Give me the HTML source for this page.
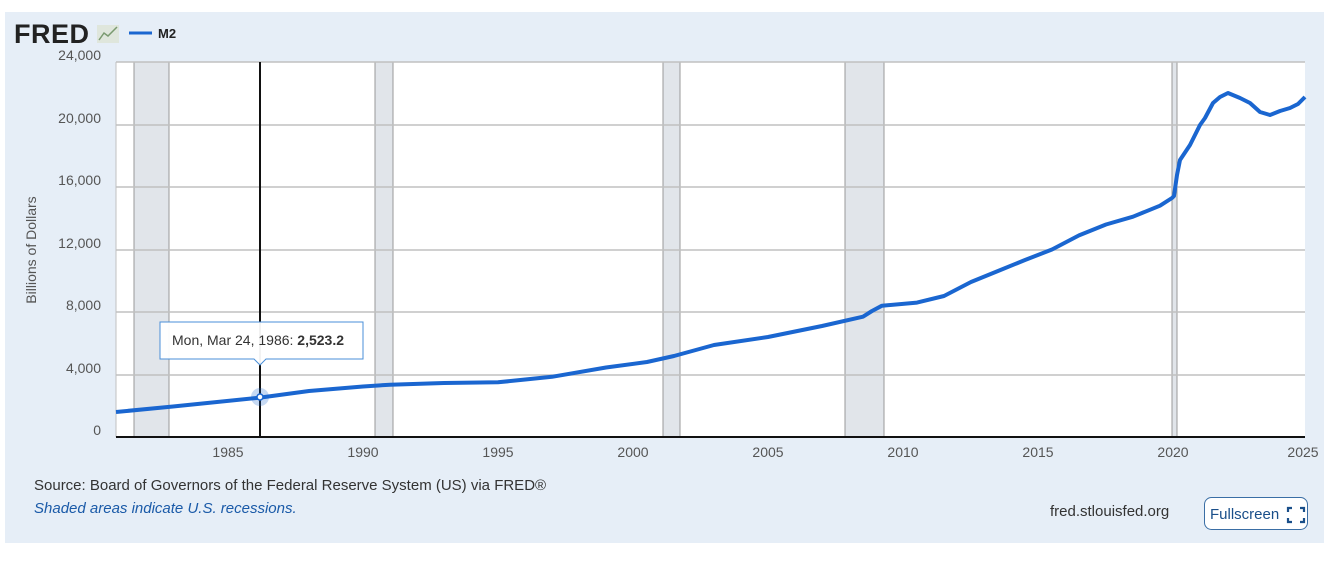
<!DOCTYPE html>
<html><head><meta charset="utf-8"><style>
body{margin:0;width:1333px;height:557px;background:#fff;font-family:"Liberation Sans",sans-serif;overflow:hidden}
</style></head><body>
<svg width="1333" height="557" xmlns="http://www.w3.org/2000/svg" font-family="Liberation Sans, sans-serif">
<rect x="5" y="12" width="1319" height="531" fill="#e6eef7"/>
<text x="14" y="43" font-size="27" font-weight="bold" fill="#222" letter-spacing="0.5">FRED</text>
<rect x="97" y="25" width="22" height="18" fill="#dfe6dc"/>
<path d="M99 40 L104 33 L108 36 L117 27" stroke="#7a9a70" fill="none" stroke-width="1.5"/>
<line x1="129" y1="33" x2="152" y2="33" stroke="#1a66d0" stroke-width="3"/>
<text x="158" y="38" font-size="13" font-weight="bold" fill="#222">M2</text>
<rect x="116" y="62" width="1189" height="375" fill="#fff"/>
<g fill="#e1e5ea" stroke="#999" stroke-width="1">
<rect x="134" y="62" width="35" height="375"/>
<rect x="375" y="62" width="18" height="375"/>
<rect x="663" y="62" width="17" height="375"/>
<rect x="845" y="62" width="39" height="375"/>
<rect x="1172" y="62" width="5" height="375"/>
</g>
<g stroke="#c0c0c0" stroke-width="1.5">
<line x1="116" y1="62" x2="1305" y2="62"/>
<line x1="116" y1="125" x2="1305" y2="125"/>
<line x1="116" y1="187" x2="1305" y2="187"/>
<line x1="116" y1="250" x2="1305" y2="250"/>
<line x1="116" y1="312" x2="1305" y2="312"/>
<line x1="116" y1="375" x2="1305" y2="375"/>
</g>
<line x1="116" y1="62" x2="116" y2="437" stroke="#c0c0c0"/>
<g font-size="14" fill="#555" text-anchor="end">
<text x="101" y="60">24,000</text>
<text x="101" y="123">20,000</text>
<text x="101" y="185">16,000</text>
<text x="101" y="248">12,000</text>
<text x="101" y="310">8,000</text>
<text x="101" y="373">4,000</text>
<text x="101" y="435">0</text>
</g>
<text transform="translate(36,250) rotate(-90)" font-size="14" fill="#555" text-anchor="middle">Billions of Dollars</text>
<g font-size="14" fill="#555" text-anchor="middle">
<text x="228" y="457">1985</text><text x="363" y="457">1990</text><text x="498" y="457">1995</text>
<text x="633" y="457">2000</text><text x="768" y="457">2005</text><text x="903" y="457">2010</text>
<text x="1038" y="457">2015</text><text x="1173" y="457">2020</text><text x="1303" y="457">2025</text>
</g>
<line x1="260" y1="62" x2="260" y2="437" stroke="#111" stroke-width="2"/>
<polyline fill="none" stroke="#1a66d0" stroke-width="4" stroke-linejoin="round" points="116,412 173,406.5 260,397.6 309,391 363,386.5 390,384.7 444,383 498,382.3 552,376.8 606,367.5 647,362 674,356 714,345 768,337 822,326 863,316.7 872,311 882,305.7 917,302.6 944,296 971,282 998,271 1025,260 1052,249.5 1079,235.4 1106,224.5 1133,216.7 1160,205.7 1172,198 1174,196 1177,175 1180,160 1190,145 1200,125 1205,118 1213,103 1220,97 1228,93 1240,98 1250,103 1260,112 1270,115 1280,111 1290,108 1298,104 1305,97"/>
<circle cx="260" cy="397" r="9" fill="#1a66d0" fill-opacity="0.25"/>
<circle cx="260" cy="397" r="3" fill="#fff" stroke="#1a66d0" stroke-width="1.5"/>
<line x1="116" y1="437" x2="1305" y2="437" stroke="#111" stroke-width="2"/>
<path d="M160 322 H363 V359 H266 L260 365 L254 359 H160 Z" fill="#fff" fill-opacity="0.95" stroke="#4a8fd8" stroke-width="1"/>
<text x="172" y="345" font-size="14" fill="#333">Mon, Mar 24, 1986:  <tspan font-weight="bold">2,523.2</tspan></text>
<text x="34" y="490" font-size="15" fill="#333">Source: Board of Governors of the Federal Reserve System (US) via FRED®</text>
<text x="34" y="513" font-size="15" fill="#1a5aa8" font-style="italic">Shaded areas indicate U.S. recessions.</text>
<text x="1050" y="516" font-size="15" fill="#333">fred.stlouisfed.org</text>
<rect x="1204.5" y="497.5" width="103" height="32" rx="7" fill="#fff" stroke="#3a6ea5"/>
<text x="1210" y="519" font-size="15" fill="#1a4f8a">Fullscreen</text>
<path d="M1288 512v-4h4M1300 508h4v4M1304 518v4h-4M1292 522h-4v-4" fill="none" stroke="#1a4f8a" stroke-width="2.2"/>
</svg>
</body></html>
